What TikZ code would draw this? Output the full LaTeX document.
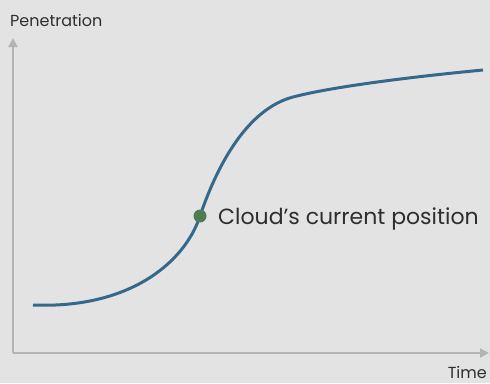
\documentclass[tikz,border=0pt]{standalone}
\usepackage{fontspec}
\setmainfont{Poppins}
\usetikzlibrary{arrows.meta}
\definecolor{bggray}{HTML}{E3E3E3}
\definecolor{axisgray}{HTML}{B4B4B4}
\definecolor{curveblue}{HTML}{35698C}
\definecolor{dotgreen}{HTML}{4E7B52}
\definecolor{textgray}{HTML}{2E2E2E}
\tikzset{
  axis/.style={axisgray, line width=2pt, -{Triangle[length=9pt,width=9pt]}},
  lbl/.style={textgray, inner sep=0pt}
}

\begin{document}
\begin{tikzpicture}[x=1pt, y=-1pt]
  \fill[bggray] (0,0) rectangle (490,383);
  \useasboundingbox (0,0) rectangle (490,383);

  \coordinate (origin) at (13,353);
  \coordinate (ytop) at (13,38);
  \coordinate (xend) at (489,353);
  \draw[axis] (origin) -- (ytop);
  \draw[axis] (origin) -- (xend);

  \node[lbl, anchor=base west, font=\fontsize{16}{18}\selectfont] (penetration) at (10,26) {Penetration};
  \node[lbl, anchor=base east, font=\fontsize{16}{18}\selectfont] (time) at (487,378) {Time};

  % adoption curve
  \coordinate (start) at (33,305);
  \coordinate (now) at (200,216);
  \coordinate (knee) at (293,97);
  \coordinate (finish) at (483,70);
  \draw[curveblue, line width=3pt]
    (start) .. controls (130,309) and (185,262) .. (now)
            .. controls (218,163) and (248,109) .. (knee)
            .. controls (335,86) and (420,76) .. (finish);

  \fill[dotgreen] (now) circle (6.5);
  \node[lbl, anchor=base west, font=\fontsize{22}{24}\selectfont] (position) at (218,224) {Cloud’s current position};
\end{tikzpicture}
\end{document}
